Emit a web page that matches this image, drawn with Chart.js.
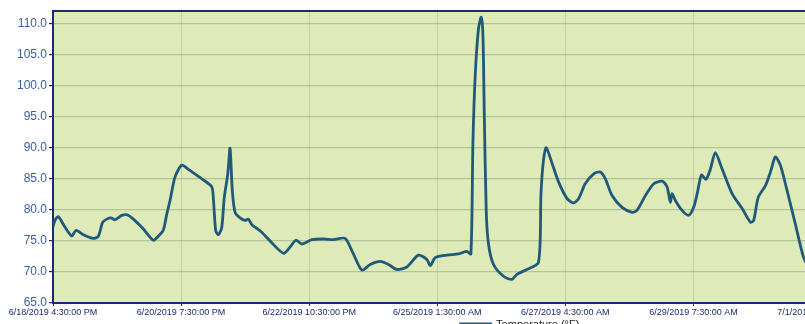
<!DOCTYPE html>
<html>
<head>
<meta charset="utf-8">
<script src="https://cdn.jsdelivr.net/npm/chart.js@4/dist/chart.umd.min.js"></script>
<style>
  html, body { margin: 0; padding: 0; background: #fff; overflow: hidden; }
  #wrap { width: 1046px; height: 340px; }
</style>
</head>
<body>
<div id="wrap"><canvas id="tempChart" width="1046" height="340"></canvas></div>
<script>
// hours since 6/18/2019 4:30 PM
const hours = [
  0, 0.8, 2.1, 4.8, 7.5, 9.2, 12.1, 16.1, 18.0, 19.8, 21.4, 23.1, 24.7, 27.4, 29.4, 32.0,
  36.0, 40.0, 42.0, 43.9, 45.3, 46.6, 48.6, 51.3, 53.9, 55.3, 59.2, 63.2, 63.9, 64.8, 65.9,
  67.2, 68.2, 69.6, 70.5, 71.4, 72.5, 74.5, 76.5, 77.8, 79.2, 83.1, 87.1, 91.8, 94.4, 96.7,
  99.1, 103.1, 107.7, 111.7, 116.3, 119.6, 123.0, 126.3, 130.3, 133.6, 136.9, 140.9, 145.5,
  148.9, 150.2, 152.2, 156.9, 161.5, 164.8, 166.4, 167.2, 168.1, 169.4, 170.5, 171.2, 171.7,
  172.5, 173.4, 175.4, 179.4, 182.7, 184.7, 188.7, 193.3, 194.3, 195.3, 196.4, 198.7, 201.3,
  204.7, 207.3, 209.3, 211.9, 215.3, 217.9, 219.9, 222.6, 226.6, 230.6, 232.5, 235.9, 239.2,
  242.5, 244.5, 245.1, 245.8, 246.5, 247.8, 250.5, 253.1, 255.1, 256.5, 258.2, 260.0, 261.8,
  263.7, 266.4, 270.4, 274.4, 277.7, 279.0, 280.8, 283.7, 285.7, 287.6, 289.6, 292.3, 295.6,
  298.9, 302.0
];
const tempF = [
  77.3, 78.3, 78.9, 77.2, 75.8, 76.7, 76.0, 75.4, 75.7, 78.0, 78.5, 78.7, 78.4, 79.1, 79.2, 78.5,
  76.9, 75.1, 75.8, 76.7, 79.3, 81.5, 85.3, 87.2, 86.5, 86.1, 85.0, 83.7, 81.5, 76.6, 76.0,
  77.2, 82.0, 85.8, 89.9, 83.1, 79.6, 78.7, 78.3, 78.5, 77.6, 76.4, 74.7, 73.0, 74.0, 75.1,
  74.5, 75.2, 75.3, 75.2, 75.4, 72.9, 70.3, 71.2, 71.7, 71.2, 70.4, 70.8, 72.7,
  72.0, 71.0, 72.3, 72.7, 72.9, 73.3, 72.9, 90.7, 101.5, 109.1, 111.0, 108.0, 96.1,
  79.9, 74.5, 71.2, 69.3, 68.8, 69.6, 70.4, 71.5, 82.6, 88.0, 90.0, 87.5, 84.5,
  81.8, 81.1, 81.8, 84.2, 85.8, 86.1, 85.0, 82.3, 80.4, 79.6, 79.9, 82.3, 84.2,
  84.6, 83.7, 82.6, 81.2, 82.6, 81.5, 79.9, 79.1, 80.4, 82.6, 85.6, 84.9, 86.6,
  89.2, 86.6, 82.6, 80.2, 78.0, 78.3, 82.0, 83.9, 86.1, 88.5, 87.2, 83.1, 77.7,
  72.3, 70.0
];
const xTickHours = [0, 51, 102, 153, 204, 255, 306, 357];
const xTickLabels = [
  "6/18/2019 4:30:00 PM", "6/20/2019 7:30:00 PM", "6/22/2019 10:30:00 PM",
  "6/25/2019 1:30:00 AM", "6/27/2019 4:30:00 AM", "6/29/2019 7:30:00 AM",
  "7/1/2019 10:30:00 AM", "7/3/2019 1:30:00 PM"
];
const yTicks = [65, 70, 75, 80, 85, 90, 95, 100, 105, 110];

const NAVY = "#1b2a6e";
const PLOT_BG = "#dfeab9";

const plotFrame = {
  id: "plotFrame",
  beforeDraw(chart) {
    const { ctx, chartArea: a } = chart;
    ctx.save();
    ctx.fillStyle = PLOT_BG;
    ctx.fillRect(a.left, a.top, a.right - a.left, a.bottom - a.top);
    ctx.restore();
  },
  afterDraw(chart) {
    const { ctx, chartArea: a } = chart;
    ctx.save();
    ctx.strokeStyle = NAVY;
    ctx.lineWidth = 2;
    ctx.beginPath();
    ctx.moveTo(a.left, a.top);
    ctx.lineTo(a.right, a.top);
    ctx.stroke();
    ctx.restore();
  }
};

new Chart(document.getElementById("tempChart"), {
  type: "line",
  data: {
    datasets: [{
      label: "Temperature (°F)",
      data: hours.map((h, i) => ({ x: h, y: tempF[i] })),
      borderColor: "#1f5a7a",
      backgroundColor: NAVY,
      borderWidth: 2.8,
      pointRadius: 0,
      tension: 0.25,
      fill: false,
    }],
  },
  options: {
    responsive: false,
    animation: false,
    layout: { padding: { top: 11, right: 6, left: 0, bottom: 0 } },
    plugins: {
      tooltip: { enabled: false },
      legend: {
        display: true,
        position: "bottom",
        labels: {
          boxWidth: 30,
          boxHeight: 1,
          padding: 0,
          color: "#222",
          font: { family: "Liberation Sans", size: 11 },
        },
      },
    },
    scales: {
      x: {
        type: "linear",
        min: 0,
        max: 393,
        afterBuildTicks: (s) => { s.ticks = xTickHours.map((v) => ({ value: v })); },
        afterFit: (s) => { s.height = 16; },
        ticks: {
          autoSkip: false,
          maxRotation: 0,
          padding: 1,
          color: NAVY,
          font: { family: "Liberation Sans", size: 9 },
          callback: (v) => xTickLabels[xTickHours.indexOf(v)] || "",
        },
        grid: { color: "rgba(160,178,140,0.45)", tickColor: NAVY, tickLength: 3 },
        border: { color: NAVY, width: 2 },
      },
      y: {
        min: 65,
        max: 112,
        afterBuildTicks: (s) => { s.ticks = yTicks.map((v) => ({ value: v })); },
        afterFit: (s) => { s.width = 53; },
        ticks: {
          padding: 2,
          color: "#3b5bab",
          font: { family: "Liberation Sans", size: 12 },
          callback: (v) => Number(v).toFixed(1),
        },
        grid: { color: "rgba(150,170,130,0.6)", tickColor: NAVY, tickLength: 4, lineWidth: 1.2 },
        border: { color: NAVY, width: 2 },
      },
    },
  },
  plugins: [plotFrame],
});
</script>
</body>
</html>
